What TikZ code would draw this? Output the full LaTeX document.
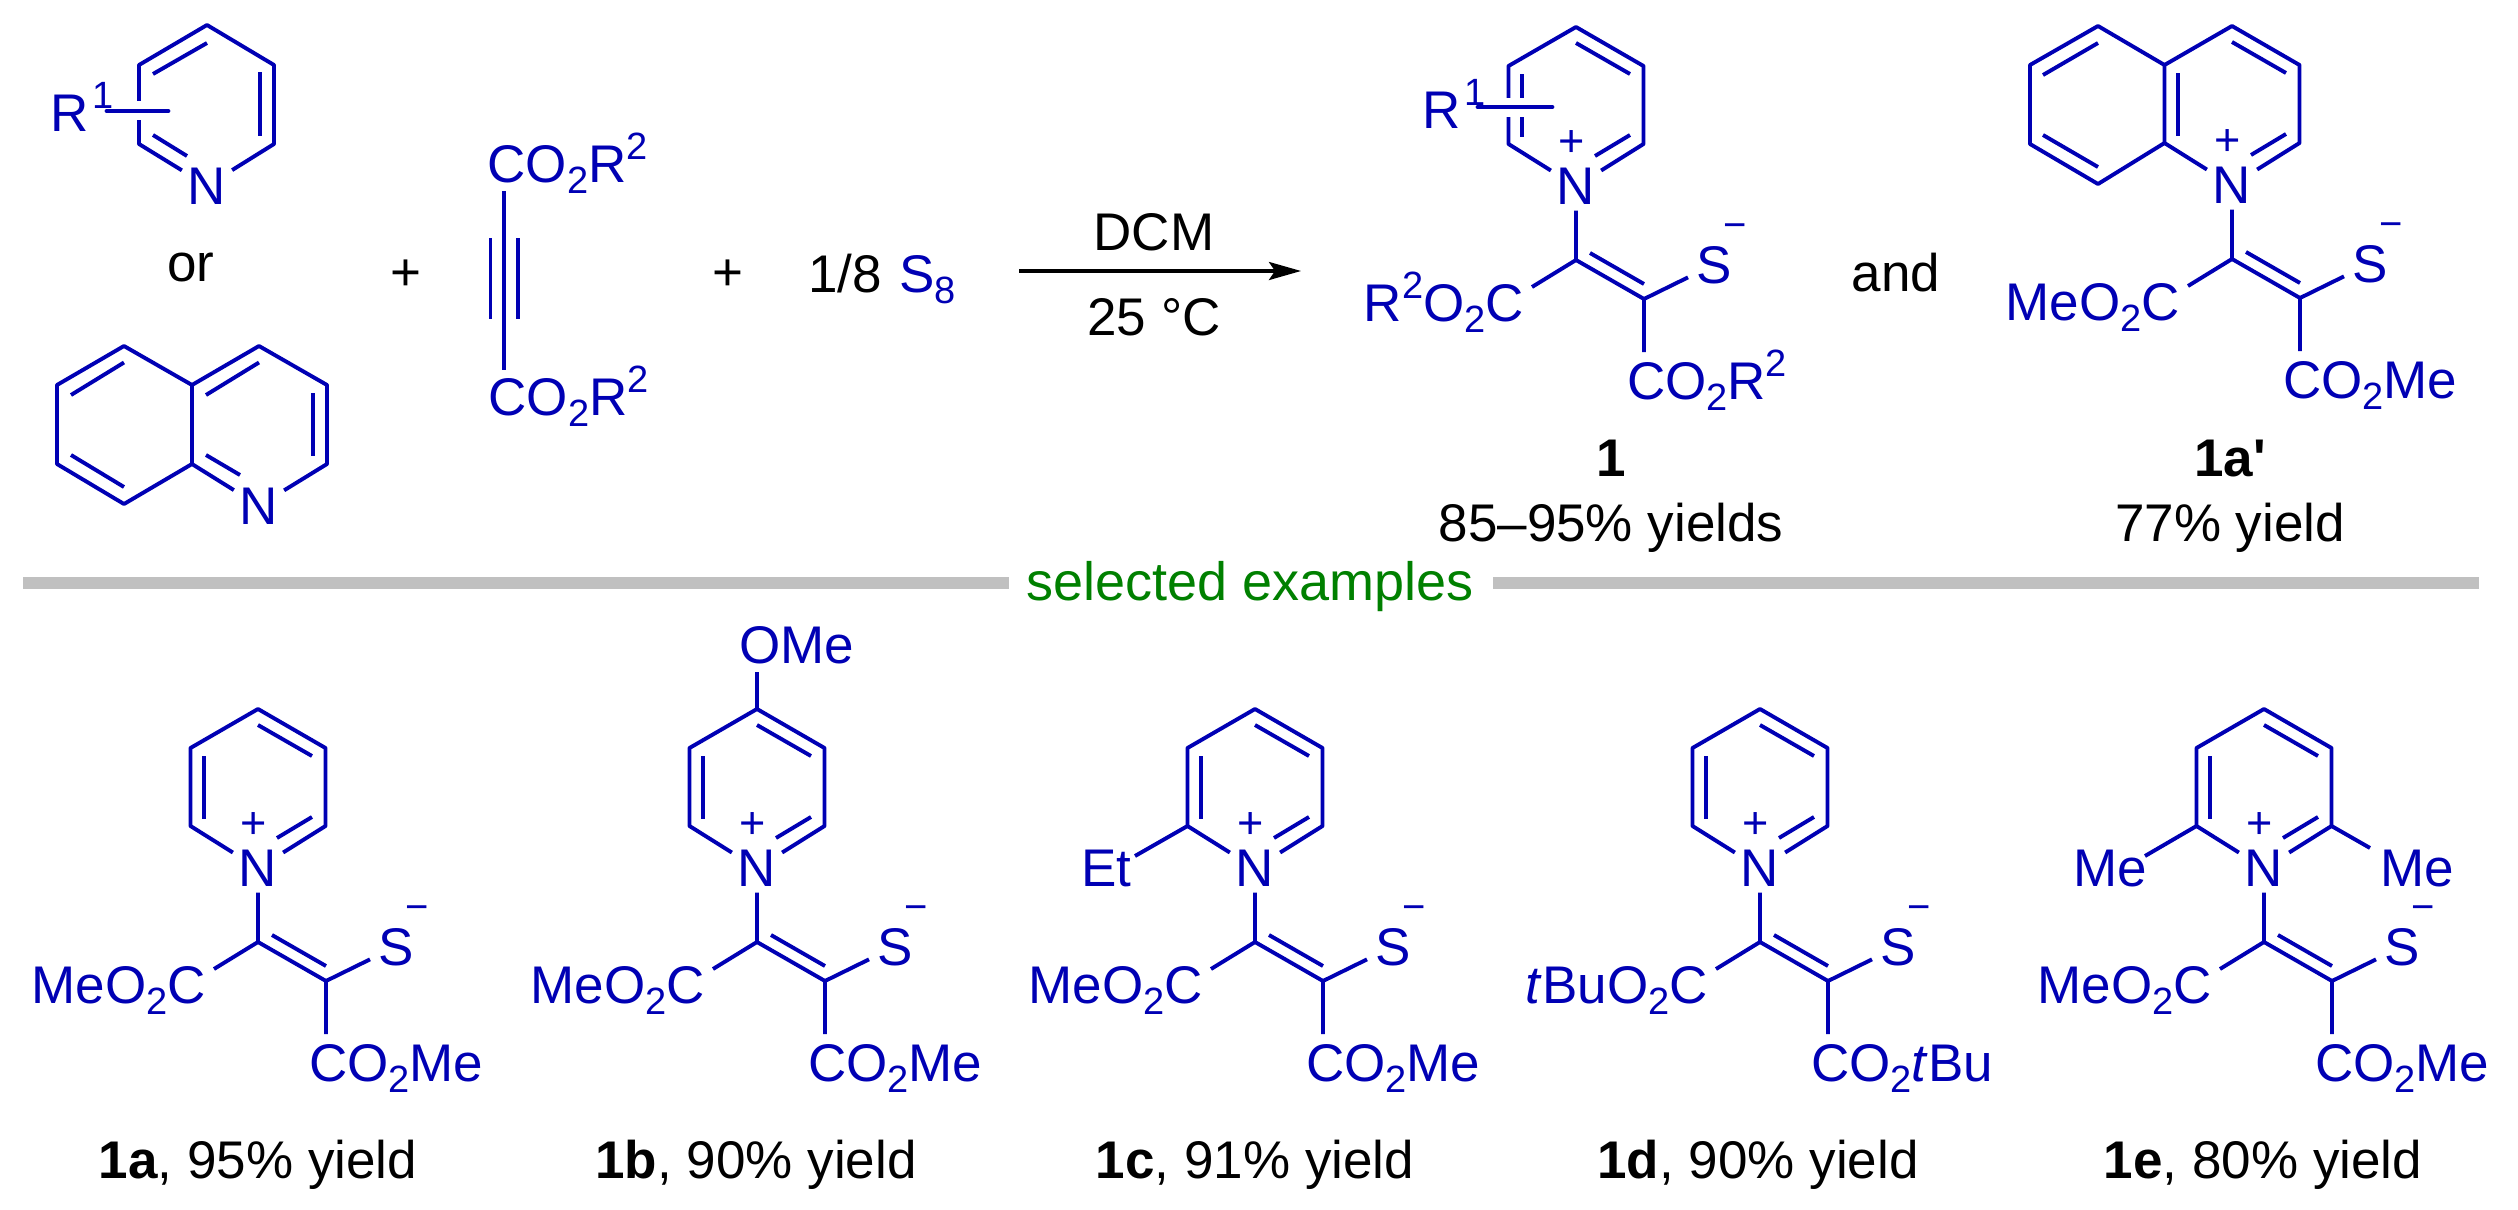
\documentclass[tikz,border=0pt]{standalone}
\usepackage{fontspec}
\setmainfont{Liberation Sans}
\newfontfamily\plainsans{Liberation Sans}
\usetikzlibrary{arrows.meta}
\definecolor{chemblue}{RGB}{0,0,180}
\definecolor{chemgreen}{RGB}{0,128,0}
\definecolor{rulegray}{RGB}{192,192,192}
\newcommand\mainsize{\fontsize{26.5pt}{30pt}\selectfont}
\newcommand\chemsub[1]{\raisebox{-.21em}{\fontsize{19pt}{20pt}\selectfont #1}}
\newcommand\chemsup[1]{\raisebox{.43em}{\fontsize{19pt}{20pt}\selectfont #1}}
\tikzset{
  bond/.style={line width=1.95pt,draw=chemblue,line join=round,line cap=butt},
  heavybond/.style={line width=2.4pt,draw=chemblue,line cap=round},
  halo/.style={line width=9.5pt,draw=white},
  atomlabel/.style={text=chemblue,inner sep=0pt,outer sep=0pt,font=\mainsize},
  ringatom/.style={atomlabel,outer sep=3pt,anchor=base},
  thiolabel/.style={atomlabel,outer sep=4pt,anchor=base west},
  lefttext/.style={atomlabel,anchor=base east},
  righttext/.style={atomlabel,anchor=base west},
  plustext/.style={text=chemblue,inner sep=0pt,font=\fontsize{22.5pt}{24pt}\selectfont},
  minustext/.style={text=chemblue,inner sep=0pt,font=\fontsize{20pt}{22pt}\selectfont},
  blacktext/.style={text=black,inner sep=0pt,font=\mainsize,anchor=base},
  greentext/.style={text=chemgreen,inner sep=0pt,font=\fontsize{27pt}{30pt}\selectfont,anchor=base},
  dividerline/.style={line width=6pt,draw=rulegray},
  reactionarrow/.style={line width=1.8pt,draw=black,-{Stealth[length=16pt,width=9pt,inset=3pt]}}
}
% #1 prefix, #2 x, #3 y of ring top atom, #4 left ester, #5 right ester
\newcommand\zwitterion[5]{%
  \begin{scope}[shift={(#2,#3)}]
    \node[ringatom] (#1N) at (0,177.5) {N};
    \node[plustext] (#1plus) at (-4,117) {+};
    \coordinate (#1T) at (0,0);
    \coordinate (#1UL) at (-67.5,39);
    \coordinate (#1UR) at (67.5,39);
    \coordinate (#1LL) at (-67.5,117);
    \coordinate (#1LR) at (67.5,117);
    \coordinate (#1Ca) at (0,233);
    \coordinate (#1Cb) at (68,272);
    \coordinate (#1Ea) at (-44,260);
    \coordinate (#1Eb) at (68,325);
    \draw[bond] (#1N) -- (#1LL) -- (#1UL) -- (#1T) -- (#1UR) -- (#1LR) -- (#1N);
    \draw[bond] (-54,47) -- (-54,110);
    \draw[bond] (0,16) -- (54,47);
    \draw[bond] (54,108) -- (19,129);
    \node[thiolabel] (#1S) at (112,256) {S};
    \node[minustext] (#1minus) at (159,204) {−};
    \node[lefttext] (#1ester) at (-52,294.5) {#4};
    \node[righttext] (#1esterb) at (51,372) {#5};
    \draw[bond] (#1N) -- (#1Ca) -- (#1Cb) -- (#1Eb);
    \draw[bond] (#1Ca) -- (#1Ea);
    \draw[bond] (#1Cb) -- (#1S);
    \draw[bond] (14,226) -- (68,257);
  \end{scope}}
\begin{document}
\begin{tikzpicture}[x=0.5pt,y=-0.5pt]
\useasboundingbox (0,0) rectangle (2518,1210);
\fill[white] (0,0) rectangle (2518,1210);
% --- reactant pyridine
\node[ringatom] (pyN) at (207,204) {N};
\coordinate (pyT) at (207,25);
\coordinate (pyUL) at (139,65);
\coordinate (pyUR) at (274,65);
\coordinate (pyLL) at (139,144);
\coordinate (pyLR) at (274,144);
\draw[bond] (pyN) -- (pyLL) -- (pyUL) -- (pyT) -- (pyUR) -- (pyLR) -- (pyN);
\draw[bond] (153,74) -- (207,43);
\draw[bond] (260,72) -- (260,136);
\draw[bond] (153,135) -- (187,156);
\draw[halo] (132,110.5) -- (146,110.5);
\draw[heavybond] (107,111) -- (168,111);
\node[righttext] (pyR) at (50,131) {R\kern2pt\chemsup{1}};
\node[blacktext] (ortext) at (191,281) {or};
% --- reactant quinoline
\node[ringatom] (quN) at (259,524) {N};
\coordinate (quA) at (124,346);
\coordinate (quB) at (57,385);
\coordinate (quC) at (57,464);
\coordinate (quD) at (124,504);
\coordinate (quE) at (192,464);
\coordinate (quF) at (192,385);
\coordinate (quG) at (259,346);
\coordinate (quH) at (327,385);
\coordinate (quI) at (327,464);
\draw[bond] (quF) -- (quA) -- (quB) -- (quC) -- (quD) -- (quE) -- (quF) -- (quG) -- (quH) -- (quI) -- (quN) -- (quE);
\draw[bond] (71,395) -- (124,362.5);
\draw[bond] (71,455) -- (124,487);
\draw[bond] (206,395) -- (259,362.5);
\draw[bond] (313,393) -- (313,456);
\draw[bond] (206,455) -- (240,475);
% --- plus signs
\node[blacktext,anchor=center] (plusa) at (406,275) {+};
\node[blacktext,anchor=center] (plusb) at (728,275) {+};
% --- alkyne
\node[righttext] (alkTop) at (487.5,182) {CO\chemsub{2}R\chemsup{2}};
\node[righttext] (alkBot) at (488.5,415) {CO\chemsub{2}R\chemsup{2}};
\coordinate (alkA) at (504,191);
\coordinate (alkB) at (504,370);
\draw[bond] (alkA) -- (alkB);
\draw[bond] (490.5,238) -- (490.5,319);
\draw[bond] (518,238) -- (518,319);
% --- sulfur
\node[blacktext,anchor=base west] (eighth) at (808,292) {1/8};
\node[righttext] (seight) at (899,292) {S\chemsub{8}};
% --- arrow
\coordinate (arrowA) at (1019,271);
\coordinate (arrowB) at (1301,271);
\draw[reactionarrow] (arrowA) -- (arrowB);
\node[blacktext] (dcm) at (1154,250) {DCM};
\node[blacktext] (temp) at (1154,335) {25 °C};
% --- product 1
\zwitterion{pa}{1576}{27}{R\chemsup{2}O\chemsub{2}C}{CO\chemsub{2}R\chemsup{2}}
\draw[halo] (1502,107) -- (1530,107);
\draw[heavybond] (1478,107) -- (1552,107);
\node[righttext] (paR) at (1422,128) {R\kern2pt\chemsup{1}};
\node[blacktext] (palabel) at (1611,476) {\textbf{1}};
\node[blacktext] (payield) at (1611,541) {85–95\% yields};
\node[blacktext] (andtext) at (1896,291) {and};
% --- product 1a'
\zwitterion{pb}{2232}{26}{MeO\chemsub{2}C}{CO\chemsub{2}Me}
\coordinate (pbA) at (2098,26);
\coordinate (pbB) at (2030,65);
\coordinate (pbC) at (2030,144);
\coordinate (pbD) at (2098,184);
\draw[bond] (pbUL) -- (pbA) -- (pbB) -- (pbC) -- (pbD) -- (pbLL);
\draw[bond] (2043,75) -- (2098,43);
\draw[bond] (2043,135) -- (2098,167);
\node[blacktext] (pblabel) at (2230,476) {{\plainsans\bfseries 1a'}};
\node[blacktext] (pbyield) at (2230,541) {77\% yield};
% --- divider
\coordinate (divA) at (23,583);
\coordinate (divB) at (1009,583);
\coordinate (divC) at (1493,583);
\coordinate (divD) at (2479,583);
\draw[dividerline] (divA) -- (divB);
\draw[dividerline] (divC) -- (divD);
\node[greentext] (sel) at (1250,600) {selected examples};
% --- examples
\zwitterion{ea}{258}{709}{MeO\chemsub{2}C}{CO\chemsub{2}Me}
\node[blacktext] (ealabel) at (258,1178) {\textbf{1a}, 95\% yield};
\zwitterion{eb}{757}{709}{MeO\chemsub{2}C}{CO\chemsub{2}Me}
\node[atomlabel,anchor=base west] (ebO) at (739,663) {OMe};
\coordinate (ebOb) at (757,672);
\draw[bond] (ebT) -- (ebOb);
\node[blacktext] (eblabel) at (756,1178) {\textbf{1b}, 90\% yield};
\zwitterion{ec}{1255}{709}{MeO\chemsub{2}C}{CO\chemsub{2}Me}
\node[atomlabel,anchor=base west] (ecEt) at (1081,886) {Et};
\coordinate (ecEb) at (1135,856);
\draw[bond] (ecLL) -- (ecEb);
\node[blacktext] (eclabel) at (1255,1178) {\textbf{1c}, 91\% yield};
\zwitterion{ed}{1760}{709}{\textit{t}BuO\chemsub{2}C}{CO\chemsub{2}\textit{t}Bu}
\node[blacktext] (edlabel) at (1758,1178) {\textbf{1d}, 90\% yield};
\zwitterion{ee}{2264}{709}{MeO\chemsub{2}C}{CO\chemsub{2}Me}
\node[atomlabel,anchor=base west] (eeMa) at (2073,886) {Me};
\node[atomlabel,anchor=base west] (eeMb) at (2380,886) {Me};
\coordinate (eeMac) at (2145,856);
\coordinate (eeMbc) at (2370,848);
\draw[bond] (eeLL) -- (eeMac);
\draw[bond] (eeLR) -- (eeMbc);
\node[blacktext] (eelabel) at (2263,1178) {\textbf{1e}, 80\% yield};
\end{tikzpicture}
\end{document}
